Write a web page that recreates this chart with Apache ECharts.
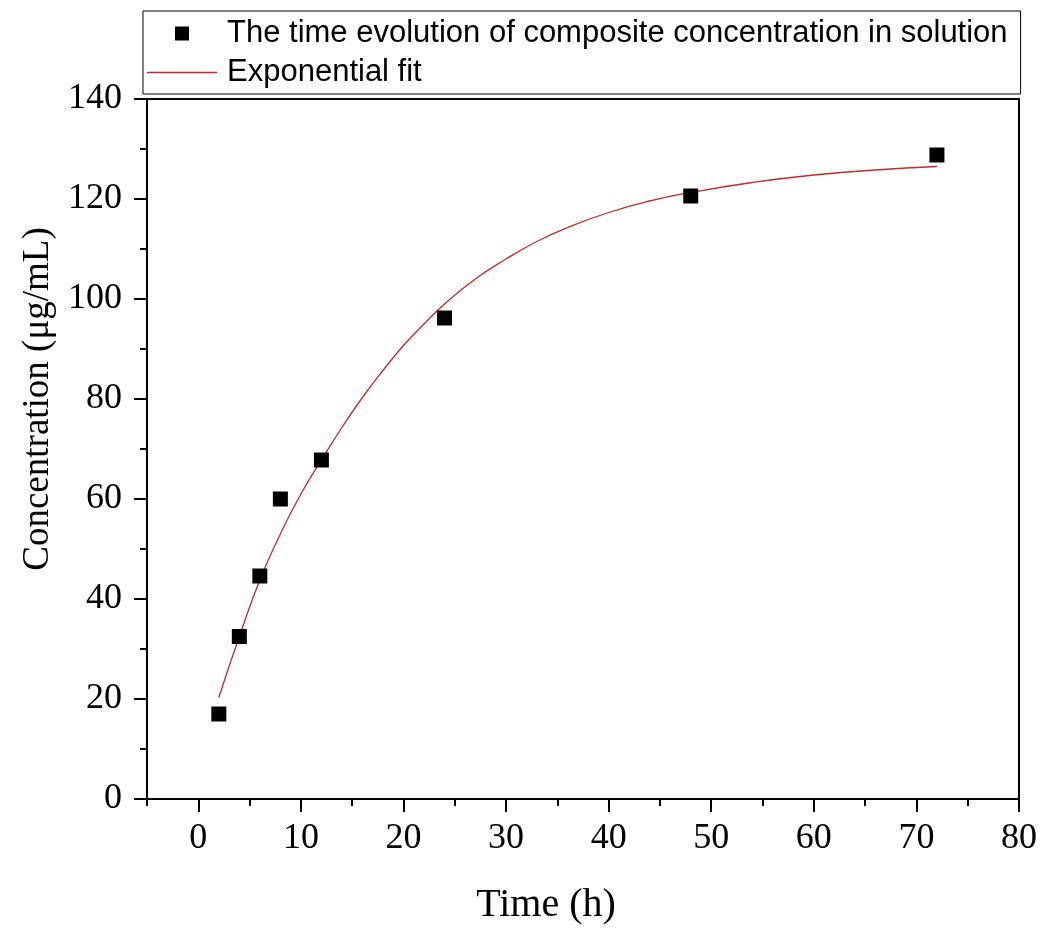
<!DOCTYPE html>
<html>
<head>
<meta charset="utf-8">
<script src="https://cdn.jsdelivr.net/npm/echarts@6/dist/echarts.min.js"></script>
<style>
  html, body { margin: 0; padding: 0; background: #fff; }
  #chart { width: 1053px; height: 930px; }
</style>
</head>
<body>
<div id="chart"></div>
<script>
// measured points (time in h, concentration in ug/mL)
const timeH = [2, 4, 6, 8, 12, 24, 48, 72]
const concentration = [17, 32.5, 44.6, 60, 67.8, 96.2, 120.6, 128.8]

// exponential fit curve
const fitTime = [2, 4, 6, 8, 10, 12, 14, 16, 18, 20, 22, 24, 27, 30, 33, 36, 40, 44, 48, 54, 60, 66, 72]
const fitConc = [20.3, 32.5, 43.8, 53, 61, 67.8, 74.3, 80.3, 85.7, 90.7, 95, 99, 104, 108, 111.5, 114.3, 117.3, 119.6, 121.3, 123.3, 124.8, 125.8, 126.5]

const xTicks = [0, 10, 20, 30, 40, 50, 60, 70, 80]
const xMinorTicks = [-5, 5, 15, 25, 35, 45, 55, 65, 75]

const seriesNames = ['The time evolution of composite concentration in solution', 'Exponential fit']

const serif = '"Liberation Serif", "Times New Roman", serif'
const sans = '"Liberation Sans", Arial, sans-serif'

const chart = echarts.init(document.getElementById('chart'), null, { renderer: 'canvas' })

const option = {
  backgroundColor: '#fff',
  animation: false,
  grid: {
    left: 147,
    right: 34,
    top: 99,
    bottom: 130,
    show: true,
    borderColor: '#000',
    borderWidth: 2
  },
  legend: {
    data: [
      // square marker and thin line, kept at their own aspect inside the icon box
      { name: seriesNames[0], icon: 'path://M0,0L1,0L1,1L0,1Z' },
      { name: seriesNames[1], icon: 'path://M0,0L70,0L70,1.3L0,1.3Z' }
    ],
    symbolKeepAspect: true,
    orient: 'vertical',
    left: 143,
    top: 11,
    padding: [7, 13, 6, 4],
    itemWidth: 70,
    itemHeight: 14,
    itemGap: 8,
    borderColor: '#000',
    borderWidth: 1,
    backgroundColor: '#fff',
    textStyle: {
      fontFamily: sans,
      fontSize: 31,
      color: '#000',
      padding: [0, 0, 0, 5]
    }
  },
  xAxis: [
    {
      type: 'value',
      min: -5,
      max: 80,
      splitNumber: 9,
      name: 'Time (h)',
      nameLocation: 'middle',
      nameGap: 86,
      nameTextStyle: {
        fontFamily: serif,
        fontSize: 40,
        color: '#000',
        padding: [0, 74, 0, 0]
      },
      axisLine: { onZero: false, lineStyle: { color: '#000', width: 2 } },
      axisTick: { length: 13, customValues: xTicks, lineStyle: { color: '#000', width: 2 } },
      axisLabel: {
        customValues: xTicks,
        margin: 22,
        fontFamily: serif,
        fontSize: 36,
        color: '#000'
      },
      splitLine: { show: false }
    },
    {
      type: 'value',
      min: -5,
      max: 80,
      interval: 5,
      position: 'bottom',
      axisLine: { show: false },
      axisTick: { length: 7, customValues: xMinorTicks, lineStyle: { color: '#000', width: 2 } },
      axisLabel: { show: false },
      splitLine: { show: false }
    }
  ],
  yAxis: {
    type: 'value',
    min: 0,
    max: 140,
    interval: 20,
    name: 'Concentration (μg/mL)',
    nameLocation: 'middle',
    nameGap: 90,
    nameTextStyle: {
      fontFamily: serif,
      fontSize: 37,
      color: '#000',
      padding: [0, 0, 0, 100]
    },
    axisLine: { onZero: false, lineStyle: { color: '#000', width: 2 } },
    axisTick: { length: 13, lineStyle: { color: '#000', width: 2 } },
    minorTick: { show: true, splitNumber: 2, length: 7, lineStyle: { color: '#000', width: 2 } },
    axisLabel: {
      margin: 25,
      fontFamily: serif,
      fontSize: 36,
      color: '#000'
    },
    splitLine: { show: false }
  },
  series: [
    {
      name: seriesNames[0],
      type: 'scatter',
      symbol: 'rect',
      symbolSize: 15,
      itemStyle: { color: '#000', opacity: 1 },
      data: timeH.map((t, i) => [t, concentration[i]]),
      z: 3
    },
    {
      name: seriesNames[1],
      type: 'line',
      smooth: 0.5,
      showSymbol: false,
      symbol: 'none',
      lineStyle: { color: '#c62828', width: 1.3 },
      itemStyle: { color: '#c62828' },
      data: fitTime.map((t, i) => [t, fitConc[i]]),
      z: 2
    }
  ]
}

chart.setOption(option)
</script>
</body>
</html>
